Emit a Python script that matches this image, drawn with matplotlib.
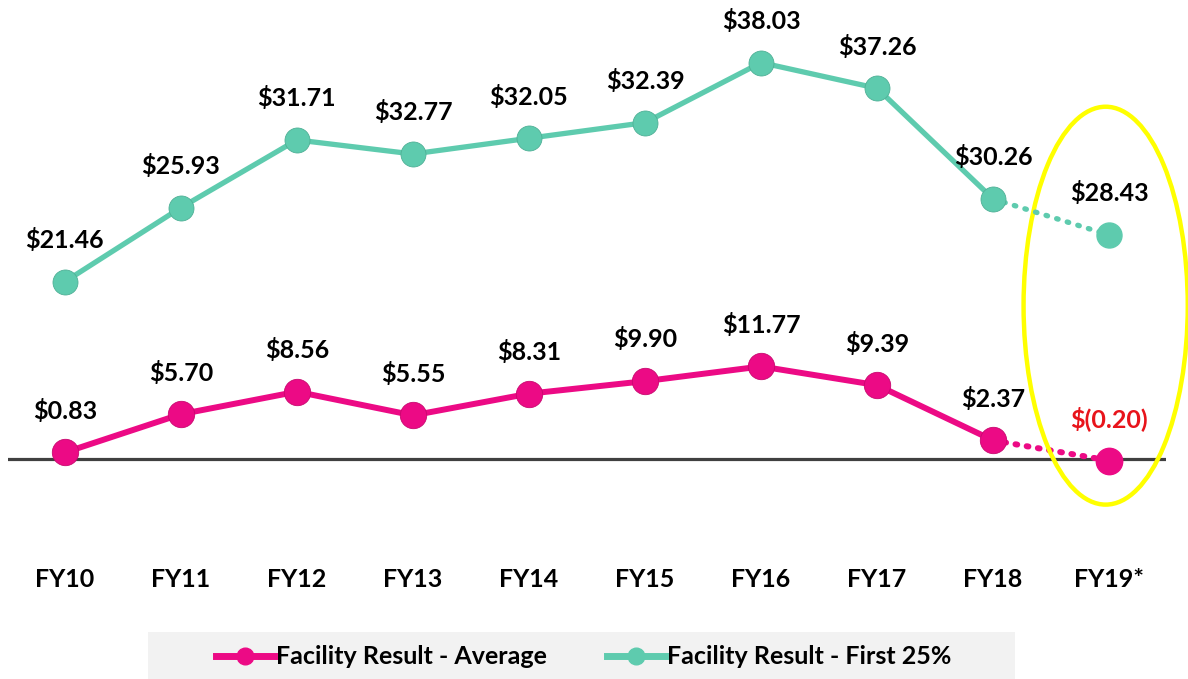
import matplotlib.pyplot as plt
from matplotlib.patches import Ellipse, Rectangle
from matplotlib.lines import Line2D

# Data
years = ["FY10", "FY11", "FY12", "FY13", "FY14", "FY15", "FY16", "FY17", "FY18", "FY19*"]
average = [0.83, 5.70, 8.56, 5.55, 8.31, 9.90, 11.77, 9.39, 2.37, -0.20]
avg_labels = ["$0.83", "$5.70", "$8.56", "$5.55", "$8.31", "$9.90", "$11.77", "$9.39", "$2.37", "$(0.20)"]

# top-quartile line as drawn in the picture (its points don't sit exactly at the printed labels)
first25 = [21.46, 27.06, 32.18, 31.12, 32.31, 33.49, 38.03, 36.09, 27.72, 24.99]
top_labels = ["$21.46", "$25.93", "$31.71", "$32.77", "$32.05", "$32.39", "$38.03", "$37.26", "$30.26", "$28.43"]

pink = "#EC0A85"
teal = "#5ECBAE"
red = "#E8141B"

plt.rcParams['font.family'] = ['Lato', 'DejaVu Sans']

W, H = 1188, 679
fig = plt.figure(figsize=(W / 100, H / 100), dpi=100)

left, right, top, bottom = 8, 1166, 10, 540
rect = [left / W, 1 - bottom / H, (right - left) / W, (bottom - top) / H]
ax = fig.add_axes(rect)
ax2 = ax.twinx()

x = list(range(len(years)))
ax.set_xlim(-0.49, 9.49)
ax.set_ylim(-10.3, 57.1)
ax2.set_ylim(1.92, 42.01)

# zero line
ax.axhline(0, color="#404040", lw=2.3, zorder=1)

# pink - solid through FY18, dotted to FY19
ax.plot(x[:9], average[:9], color=pink, lw=4.3, marker="o", ms=19,
        markeredgecolor="#c8086f", markeredgewidth=0.6, zorder=3)
ax.plot(x[8:], average[8:], color=pink, lw=4.3, ls=(0, (0.3, 1.6)),
        dash_capstyle="round", zorder=2)
ax.plot(x[9], average[9], color=pink, marker="o", ms=19, zorder=3)

ax2.plot(x[:9], first25[:9], color=teal, lw=3.8, marker="o", ms=18,
         markeredgecolor="#4fb096", markeredgewidth=0.6, zorder=3)
ax2.plot(x[8:], first25[8:], color=teal, lw=3.8, ls=(0, (0.3, 1.8)),
         dash_capstyle="round", zorder=2)
ax2.plot(x[9], first25[9], color=teal, marker="o", ms=18, zorder=3)

for i in x:
    c = red if average[i] < 0 else "black"
    ax.annotate(avg_labels[i], (i, average[i]), xytext=(0, 30), textcoords="offset points",
                ha="center", va="center", fontsize=18, fontweight="bold", color=c)
    ax2.annotate(top_labels[i], (i, first25[i]), xytext=(0, 30), textcoords="offset points",
                 ha="center", va="center", fontsize=18, fontweight="bold", color="black")

# highlight ellipse
ell = Ellipse((8.97, 19.5), 1.415, 50.6, fill=False, edgecolor="#FFFF00", lw=3.2,
              clip_on=False, zorder=4)
ax.add_patch(ell)

ax.set_xticks(x)
ax.set_xticklabels(years, fontsize=18, fontweight="bold")
ax.tick_params(axis="x", length=0, pad=20)
ax.set_yticks([])
ax2.set_yticks([])
for a in (ax, ax2):
    for s in a.spines.values():
        s.set_visible(False)
    a.patch.set_alpha(0)

# legend with gray band
fig.patches.append(Rectangle((148 / W, 0), (1015 - 148) / W, 47 / H, transform=fig.transFigure,
                             facecolor="#f2f2f2", edgecolor="none", zorder=0))
handles = [Line2D([], [], color=pink, lw=5, marker="o", ms=12),
           Line2D([], [], color=teal, lw=5, marker="o", ms=12)]
fig.legend(handles, ["Facility Result - Average", "Facility Result - First 25%"],
           loc="center", bbox_to_anchor=(584 / W, 1 - 657 / H), ncol=2, frameon=False,
           handlelength=2.3, handletextpad=0.1, columnspacing=2.4,
           prop={"size": 18, "weight": "bold"})

fig.savefig("out.png", dpi=100)
